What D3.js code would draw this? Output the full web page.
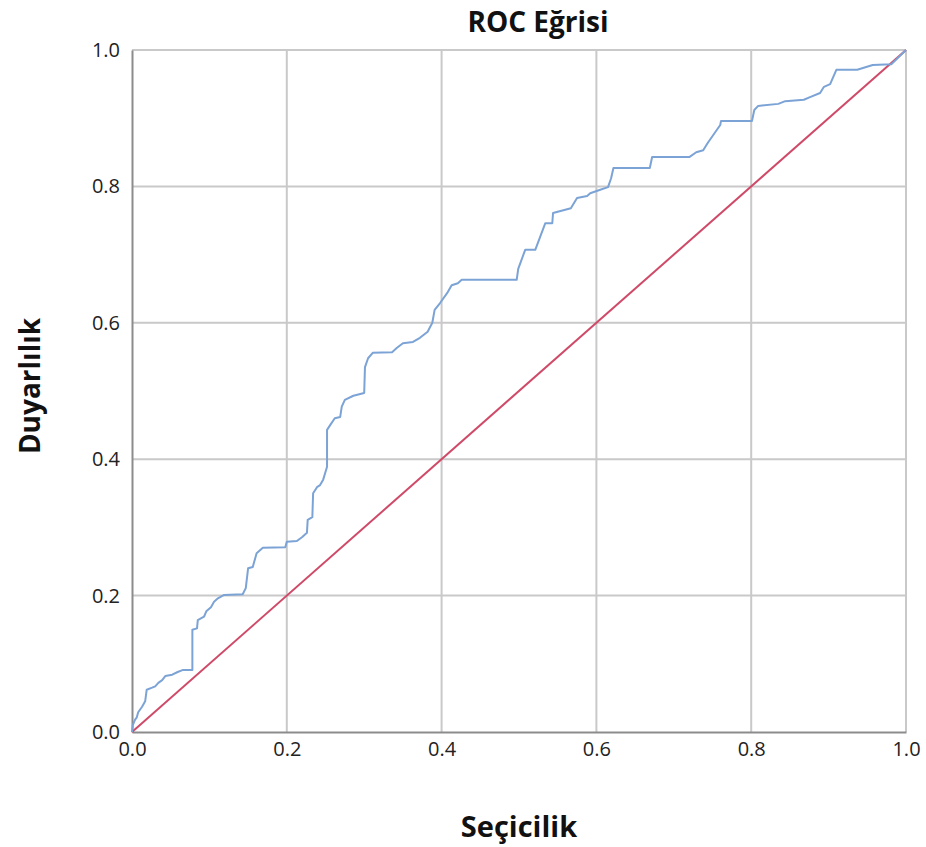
<!DOCTYPE html>
<html>
<head>
<meta charset="utf-8">
<script src="https://cdn.jsdelivr.net/npm/d3@7"></script>
<style>
  html, body { margin: 0; padding: 0; background: #ffffff; }
  svg { display: block; }
</style>
</head>
<body>
<svg id="chart" width="926" height="847"></svg>
<script>
// 1 - specificity (false positive rate) for each point of the ROC curve
const fpr = [
  0.000, 0.001, 0.004, 0.006, 0.008, 0.013, 0.017, 0.019, 0.026, 0.030,
  0.034, 0.039, 0.043, 0.052, 0.059, 0.066, 0.078, 0.078, 0.084, 0.085,
  0.093, 0.096, 0.102, 0.106, 0.111, 0.119, 0.143, 0.147, 0.150, 0.156,
  0.161, 0.169, 0.198, 0.200, 0.213, 0.220, 0.226, 0.227, 0.233, 0.234,
  0.239, 0.243, 0.247, 0.252, 0.252, 0.256, 0.262, 0.269, 0.271, 0.275,
  0.286, 0.300, 0.301, 0.305, 0.311, 0.336, 0.342, 0.350, 0.363, 0.372,
  0.382, 0.388, 0.391, 0.398, 0.408, 0.413, 0.421, 0.426, 0.497, 0.499,
  0.508, 0.521, 0.534, 0.543, 0.544, 0.567, 0.575, 0.588, 0.592, 0.605,
  0.615, 0.619, 0.622, 0.669, 0.672, 0.720, 0.729, 0.738, 0.744, 0.760,
  0.761, 0.801, 0.804, 0.809, 0.835, 0.844, 0.868, 0.876, 0.889, 0.894,
  0.902, 0.910, 0.937, 0.957, 0.981, 1.000
];
// sensitivity (true positive rate) for the same points
const tpr = [
  0.000, 0.010, 0.018, 0.021, 0.029, 0.037, 0.045, 0.062, 0.065, 0.067,
  0.072, 0.076, 0.082, 0.084, 0.088, 0.091, 0.091, 0.150, 0.152, 0.164,
  0.169, 0.177, 0.183, 0.191, 0.196, 0.201, 0.202, 0.211, 0.240, 0.242,
  0.262, 0.270, 0.271, 0.279, 0.280, 0.286, 0.292, 0.311, 0.315, 0.350,
  0.359, 0.362, 0.370, 0.389, 0.443, 0.450, 0.460, 0.462, 0.477, 0.487,
  0.493, 0.497, 0.535, 0.548, 0.556, 0.557, 0.563, 0.570, 0.572, 0.578,
  0.587, 0.600, 0.619, 0.629, 0.645, 0.655, 0.658, 0.663, 0.663, 0.679,
  0.707, 0.707, 0.746, 0.746, 0.761, 0.768, 0.783, 0.786, 0.790, 0.795,
  0.799, 0.812, 0.827, 0.827, 0.843, 0.843, 0.850, 0.853, 0.864, 0.890,
  0.896, 0.896, 0.912, 0.918, 0.921, 0.925, 0.927, 0.931, 0.937, 0.946,
  0.950, 0.971, 0.971, 0.978, 0.979, 1.000
];
// reference (chance) line
const refX = [0, 1];
const refY = [0, 1];

const tickValues = [0.0, 0.2, 0.4, 0.6, 0.8, 1.0];
const titleText = "ROC Eğrisi";
const xLabel = "Seçicilik";
const yLabel = "Duyarlılık";

const svg = d3.select("#chart");
const margin = { left: 132, right: 20, top: 50, bottom: 115 };
const W = 926, H = 847;

const x = d3.scaleLinear().domain([0, 1]).range([margin.left, W - margin.right]);
const y = d3.scaleLinear().domain([0, 1]).range([H - margin.bottom, margin.top]);

const font = "'Open Sans', 'Noto Sans', sans-serif";

// grid lines
const grid = svg.append("g");
grid.selectAll("line.v").data(tickValues.filter(d => d > 0)).enter().append("line")
  .attr("x1", d => x(d)).attr("x2", d => x(d))
  .attr("y1", y(0)).attr("y2", y(1))
  .attr("stroke", "#c9c9c9").attr("stroke-width", 2);
grid.selectAll("line.h").data(tickValues.filter(d => d > 0)).enter().append("line")
  .attr("y1", d => y(d)).attr("y2", d => y(d))
  .attr("x1", x(0)).attr("x2", x(1))
  .attr("stroke", "#c9c9c9").attr("stroke-width", 2);

// axes
const xAxis = d3.axisBottom(x).tickValues(tickValues).tickFormat(d3.format(".1f")).tickSize(0).tickPadding(10);
const yAxis = d3.axisLeft(y).tickValues(tickValues).tickFormat(d3.format(".1f")).tickSize(0).tickPadding(12);

const gx = svg.append("g").attr("transform", `translate(0,${y(0)})`).call(xAxis);
const gy = svg.append("g").attr("transform", `translate(${x(0)},0)`).call(yAxis);
[gx, gy].forEach(g => {
  g.select(".domain").attr("stroke", "#8c8c8c").attr("stroke-width", 2);
  g.selectAll("text").attr("font-family", font).attr("font-size", 20).attr("fill", "#222");
});

// diagonal reference line
const line = d3.line().x(d => x(d[0])).y(d => y(d[1]));
svg.append("path")
  .datum(refX.map((v, i) => [v, refY[i]]))
  .attr("d", line)
  .attr("fill", "none")
  .attr("stroke", "#cf4a68")
  .attr("stroke-width", 2);

// ROC curve
svg.append("path")
  .datum(fpr.map((v, i) => [v, tpr[i]]))
  .attr("d", line)
  .attr("fill", "none")
  .attr("stroke", "#7ca3d5")
  .attr("stroke-width", 2)
  .attr("stroke-linejoin", "round");

// titles
svg.append("text")
  .attr("x", 538).attr("y", 32)
  .attr("text-anchor", "middle")
  .attr("font-family", font).attr("font-weight", "bold").attr("font-size", 28)
  .attr("fill", "#111")
  .text(titleText);

svg.append("text")
  .attr("x", 519).attr("y", 837)
  .attr("text-anchor", "middle")
  .attr("font-family", font).attr("font-weight", "bold").attr("font-size", 29)
  .attr("fill", "#111")
  .text(xLabel);

svg.append("text")
  .attr("transform", "translate(40,386) rotate(-90)")
  .attr("text-anchor", "middle")
  .attr("font-family", font).attr("font-weight", "bold").attr("font-size", 28)
  .attr("fill", "#111")
  .text(yLabel);
</script>
</body>
</html>
